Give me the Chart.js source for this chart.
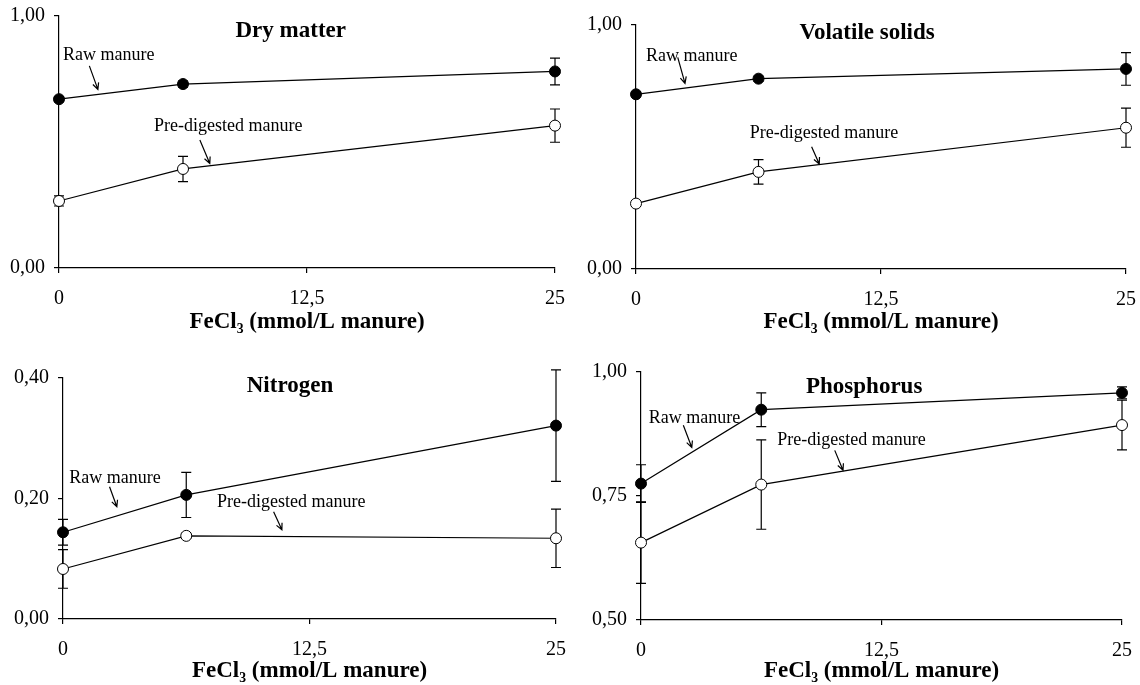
<!DOCTYPE html>
<html>
<head>
<meta charset="utf-8">
<script src="https://cdn.jsdelivr.net/npm/chart.js@4.4.0/dist/chart.umd.min.js"></script>
<style>
  html, body { margin: 0; padding: 0; background: #fff; }
  #wrap { position: relative; width: 1140px; height: 685px; overflow: hidden; }
  .panel { position: absolute; }
</style>
</head>
<body>
<div id="wrap">
  <div class="panel" style="left:0;top:0"><canvas id="c1" width="570" height="342"></canvas></div>
  <div class="panel" style="left:570px;top:0"><canvas id="c2" width="570" height="342"></canvas></div>
  <div class="panel" style="left:0;top:342px"><canvas id="c3" width="570" height="343"></canvas></div>
  <div class="panel" style="left:570px;top:342px"><canvas id="c4" width="570" height="343"></canvas></div>
</div>
<script>
// FeCl3 dose (mmol/L manure)
const fecl3 = [0, 6.25, 25];
const xTickValues = [0, 12.5, 25];

// dry matter
const dmRaw = [0.67, 0.73, 0.78];
const dmRawErr = [0.01, 0.012, 0.053];
const dmPre = [0.266, 0.393, 0.565];
const dmPreErr = [0.02, 0.05, 0.066];
const dmTicks = [0, 1];

// volatile solids
const vsRaw = [0.716, 0.78, 0.82];
const vsRawErr = [0.01, 0.01, 0.067];
const vsPre = [0.268, 0.398, 0.579];
const vsPreErr = [0.01, 0.05, 0.08];
const vsTicks = [0, 1];

// nitrogen
const nRaw = [0.144, 0.206, 0.321];
const nRawErr = [0.0215, 0.0375, 0.0925];
const nPre = [0.083, 0.138, 0.134];
const nPreErr = [0.032, 0.004, 0.0485];
const nTicks = [0, 0.2, 0.4];

// phosphorus
const pRaw = [0.775, 0.924, 0.958];
const pRawErr = [0.038, 0.034, 0.012];
const pPre = [0.656, 0.773, 0.893];
const pPreErr = [0.082, 0.09, 0.05];
const pTicks = [0.5, 0.75, 1];

const FONT = '"Liberation Serif", "Times New Roman", serif';

function toPoints(vals) {
  return fecl3.map((x, i) => ({ x: x, y: vals[i] }));
}

// error bars under the markers
const errorBars = {
  id: 'errorBars',
  beforeDatasetsDraw(chart) {
    const ctx = chart.ctx, ys = chart.scales.y;
    ctx.save();
    ctx.strokeStyle = '#000';
    ctx.lineWidth = 1.2;
    chart.data.datasets.forEach((ds, i) => {
      const meta = chart.getDatasetMeta(i);
      meta.data.forEach((pt, j) => {
        const v = ds.data[j].y, e = ds.errors[j];
        const top = ys.getPixelForValue(v + e), bot = ys.getPixelForValue(v - e);
        ctx.beginPath();
        ctx.moveTo(pt.x, top); ctx.lineTo(pt.x, bot);
        ctx.moveTo(pt.x - 5, top); ctx.lineTo(pt.x + 5, top);
        ctx.moveTo(pt.x - 5, bot); ctx.lineTo(pt.x + 5, bot);
        ctx.stroke();
      });
    });
    ctx.restore();
  }
};

function arrow(ctx, x1, y1, x2, y2) {
  const a = Math.atan2(y2 - y1, x2 - x1), h = 7;
  ctx.beginPath();
  ctx.moveTo(x1, y1); ctx.lineTo(x2, y2);
  ctx.moveTo(x2 - h * Math.cos(a - 0.45), y2 - h * Math.sin(a - 0.45));
  ctx.lineTo(x2, y2);
  ctx.lineTo(x2 - h * Math.cos(a + 0.45), y2 - h * Math.sin(a + 0.45));
  ctx.stroke();
}

// panel title + "Raw manure" / "Pre-digested manure" notes with arrows (data coords)
const notes = {
  id: 'notes',
  afterDraw(chart, args, opts) {
    const ctx = chart.ctx, xs = chart.scales.x, ys = chart.scales.y;
    ctx.save();
    ctx.fillStyle = '#000';
    ctx.strokeStyle = '#000';
    ctx.lineWidth = 1.2;
    ctx.textBaseline = 'alphabetic';
    ctx.font = 'bold 23px ' + FONT;
    ctx.textAlign = 'center';
    ctx.fillText(opts.title.text, xs.getPixelForValue(opts.title.x), ys.getPixelForValue(opts.title.y));
    ctx.font = '18px ' + FONT;
    ctx.textAlign = 'left';
    opts.labels.forEach(l => {
      ctx.fillText(l.text, xs.getPixelForValue(l.x), ys.getPixelForValue(l.y));
      const a = l.arrow;
      arrow(ctx, xs.getPixelForValue(a[0]), ys.getPixelForValue(a[1]),
                 xs.getPixelForValue(a[2]), ys.getPixelForValue(a[3]));
    });
    ctx.restore();
  }
};

function makePanel(p) {
  const axisLine = { display: true, color: '#000', width: 1.2 };
  const tickMarks = { display: true, drawOnChartArea: false, drawTicks: true, tickLength: 5, color: '#000', lineWidth: 1.2 };
  new Chart(document.getElementById(p.id), {
    type: 'line',
    data: {
      datasets: [
        {
          label: 'Raw manure', data: toPoints(p.raw), errors: p.rawErr,
          borderColor: '#000', borderWidth: 1.2, pointRadius: 5.5, pointBorderWidth: 1,
          pointBackgroundColor: '#000', pointBorderColor: '#000', clip: false, tension: 0
        },
        {
          label: 'Pre-digested manure', data: toPoints(p.pre), errors: p.preErr,
          borderColor: '#000', borderWidth: 1.2, pointRadius: 5.5, pointBorderWidth: 1,
          pointBackgroundColor: '#fff', pointBorderColor: '#000', clip: false, tension: 0
        }
      ]
    },
    options: {
      responsive: false,
      animation: false,
      events: [],
      layout: { padding: { left: 0, top: p.area[1] - p.box[1], right: p.box[0] + p.box[2] - p.area[2], bottom: 0 } },
      plugins: {
        legend: { display: false },
        tooltip: { enabled: false },
        notes: p.notes
      },
      scales: {
        x: {
          type: 'linear', min: 0, max: 25,
          afterBuildTicks: s => { s.ticks = xTickValues.map(v => ({ value: v })); },
          afterFit: s => {
            s.height = p.box[1] + p.box[3] - p.area[3];
            s.paddingLeft = 0; s.paddingRight = 0;
          },
          ticks: {
            color: '#000', font: { family: FONT, size: 20 }, padding: 14, maxRotation: 0, autoSkip: false,
            callback: v => String(v).replace('.', ',')
          },
          grid: tickMarks,
          border: axisLine,
          title: {
            display: true, text: 'FeCl₃ (mmol/L manure)', color: '#000',
            font: { family: FONT, size: 23, weight: 'bold' }, padding: { top: 0, bottom: p.titlePad }
          }
        },
        y: {
          type: 'linear', min: p.ticks[0], max: p.ticks[p.ticks.length - 1],
          afterBuildTicks: s => { s.ticks = p.ticks.map(v => ({ value: v })); },
          afterFit: s => {
            s.width = p.area[0] - p.box[0];
            s.paddingTop = 0; s.paddingBottom = 0;
          },
          ticks: {
            color: '#000', font: { family: FONT, size: 20 }, padding: 9, autoSkip: false,
            callback: v => v.toFixed(2).replace('.', ',')
          },
          grid: tickMarks,
          border: axisLine
        }
      }
    },
    plugins: [errorBars, notes]
  });
}

makePanel({
  id: 'c1', box: [0, 0, 570, 342], area: [59, 16, 555, 268], titlePad: 6,
  raw: dmRaw, rawErr: dmRawErr, pre: dmPre, preErr: dmPreErr, ticks: dmTicks,
  notes: {
    title: { text: 'Dry matter', x: 11.68, y: 0.915 },
    labels: [
      { text: 'Raw manure', x: 0.2, y: 0.824, arrow: [1.53, 0.802, 1.96, 0.709] },
      { text: 'Pre-digested manure', x: 4.79, y: 0.545, arrow: [7.1, 0.508, 7.6, 0.415] }
    ]
  }
});

makePanel({
  id: 'c2', box: [570, 0, 570, 342], area: [636, 25, 1126, 269], titlePad: 6,
  raw: vsRaw, rawErr: vsRawErr, pre: vsPre, preErr: vsPreErr, ticks: vsTicks,
  notes: {
    title: { text: 'Volatile solids', x: 11.79, y: 0.941 },
    labels: [
      { text: 'Raw manure', x: 0.51, y: 0.852, arrow: [2.13, 0.867, 2.5, 0.761] },
      { text: 'Pre-digested manure', x: 5.8, y: 0.536, arrow: [8.96, 0.501, 9.35, 0.43] }
    ]
  }
});

makePanel({
  id: 'c3', box: [0, 342, 570, 343], area: [63, 378, 556, 619], titlePad: 0,
  raw: nRaw, rawErr: nRawErr, pre: nPre, preErr: nPreErr, ticks: nTicks,
  notes: {
    title: { text: 'Nitrogen', x: 11.51, y: 0.376 },
    labels: [
      { text: 'Raw manure', x: 0.32, y: 0.226, arrow: [2.36, 0.2195, 2.73, 0.1864] },
      { text: 'Pre-digested manure', x: 7.81, y: 0.1864, arrow: [10.68, 0.178, 11.1, 0.148] }
    ]
  }
});

makePanel({
  id: 'c4', box: [570, 342, 570, 343], area: [641, 372, 1122, 620], titlePad: 0,
  raw: pRaw, rawErr: pRawErr, pre: pPre, preErr: pPreErr, ticks: pTicks,
  notes: {
    title: { text: 'Phosphorus', x: 11.6, y: 0.9585 },
    labels: [
      { text: 'Raw manure', x: 0.405, y: 0.897, arrow: [2.2, 0.8927, 2.64, 0.8478] },
      { text: 'Pre-digested manure', x: 7.08, y: 0.852, arrow: [10.07, 0.842, 10.5, 0.802] }
    ]
  }
});
</script>
</body>
</html>
